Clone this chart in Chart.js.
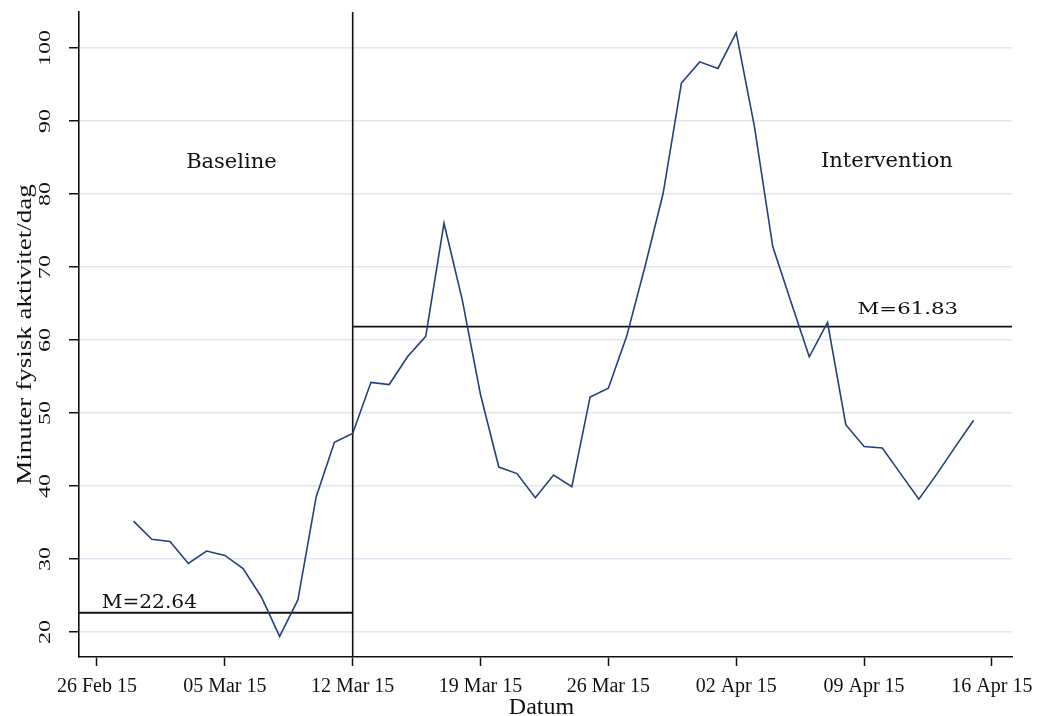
<!DOCTYPE html>
<html>
<head>
<meta charset="utf-8">
<script src="https://cdn.jsdelivr.net/npm/chart.js@4.4.1/dist/chart.umd.min.js"></script>
<style>
  html, body { margin: 0; padding: 0; background: #ffffff; }
  #wrap { width: 1040px; height: 716px; }
</style>
</head>
<body>
<div id="wrap"><canvas id="chart" width="1040" height="716"></canvas></div>
<script>
// Daily minutes of physical activity, one value per day from 28 Feb 2015
const firstDate = '2015-02-28';
const activity = [
  35.2, 32.7, 32.4, 29.4, 31.1, 30.5, 28.7, 24.8, 19.4, 24.4, 38.5, 46.0,
  47.2, 54.2, 53.9, 57.7, 60.5, 76.0, 65.5, 52.5, 42.6, 41.7, 38.4, 41.5,
  39.9, 52.2, 53.4, 60.5, 70.0, 80.1, 95.2, 98.1, 97.2, 102.1, 89.2, 72.8,
  65.2, 57.7, 62.4, 48.4, 45.4, 45.2, 41.7, 38.2, 41.7, 45.4, 49.0
];

// Phase change and phase means
const interventionStart = '2015-03-12';
const phaseNames = ['Baseline', 'Intervention'];
const phaseMeans = [22.64, 61.83];

// Axis ticks
const tickDates = ['2015-02-26', '2015-03-05', '2015-03-12', '2015-03-19',
                   '2015-03-26', '2015-04-02', '2015-04-09', '2015-04-16'];
const tickLabels = ['26 Feb 15', '05 Mar 15', '12 Mar 15', '19 Mar 15',
                    '26 Mar 15', '02 Apr 15', '09 Apr 15', '16 Apr 15'];
const yTicks = [20, 30, 40, 50, 60, 70, 80, 90, 100];

const DAY = 86400000;
const origin = Date.parse(tickDates[0]);
const dayOf = iso => (Date.parse(iso) - origin) / DAY;

const X_MIN = -0.985, X_MAX = 50.1;
const Y_MIN = 16.58, Y_MAX = 104.93;

const start = dayOf(firstDate);
const activityPoints = activity.map((v, i) => ({ x: start + i, y: v }));
const phaseDay = dayOf(interventionStart);

const SERIF = '"Liberation Serif", "Times New Roman", serif';
const LABEL_SERIF = '"DejaVu Serif", Georgia, serif';

function drawText(ctx, str, x, y, o) {
  ctx.save();
  ctx.translate(x, y);
  if (o.rotate) ctx.rotate(o.rotate);
  ctx.scale(o.sx || 1, o.sy || 1);
  ctx.font = o.font;
  ctx.fillStyle = o.color || '#111111';
  ctx.textAlign = o.align || 'center';
  ctx.textBaseline = o.baseline || 'alphabetic';
  ctx.fillText(str, 0, 0);
  ctx.restore();
}

// Rotated y tick labels, axis titles and in-plot annotations
const annotate = {
  id: 'annotate',
  afterDraw(chart) {
    const { ctx, chartArea, scales: { x, y } } = chart;

    yTicks.forEach(v => {
      drawText(ctx, String(v), 46, y.getPixelForValue(v), {
        font: '16px ' + SERIF, rotate: -Math.PI / 2, sx: 1.5, baseline: 'middle'
      });
    });

    drawText(ctx, 'Minuter fysisk aktivitet/dag', 25, (chartArea.top + chartArea.bottom) / 2, {
      font: '22px ' + SERIF, rotate: -Math.PI / 2, sx: 1.23, baseline: 'middle'
    });

    drawText(ctx, 'Datum', (chartArea.left + chartArea.right) / 2 - 4, 714, {
      font: '24px ' + SERIF
    });

    drawText(ctx, phaseNames[0], x.getPixelForValue(7.36), y.getPixelForValue(83.5), {
      font: '21px ' + LABEL_SERIF
    });
    drawText(ctx, phaseNames[1], x.getPixelForValue(43.25), y.getPixelForValue(83.7), {
      font: '21px ' + LABEL_SERIF
    });

    drawText(ctx, 'M=' + phaseMeans[0].toFixed(2), x.getPixelForValue(0.26),
      y.getPixelForValue(phaseMeans[0]) - 5, {
        font: '18px ' + LABEL_SERIF, align: 'left', sx: 1.12
      });
    drawText(ctx, 'M=' + phaseMeans[1].toFixed(2), 958,
      y.getPixelForValue(phaseMeans[1]) - 13, {
        font: '17px ' + LABEL_SERIF, align: 'right', sx: 1.25
      });
  }
};

const refLine = { borderColor: '#111111', borderWidth: 1.8, pointRadius: 0, fill: false, clip: false };

new Chart(document.getElementById('chart'), {
  type: 'line',
  data: {
    datasets: [
      {
        label: 'Minuter',
        data: activityPoints,
        borderColor: '#23427a',
        borderWidth: 1.6,
        pointRadius: 0,
        tension: 0,
        fill: false
      },
      Object.assign({ label: 'M baseline',
        data: [{ x: X_MIN, y: phaseMeans[0] }, { x: phaseDay, y: phaseMeans[0] }] }, refLine),
      Object.assign({ label: 'M intervention',
        data: [{ x: phaseDay, y: phaseMeans[1] }, { x: X_MAX, y: phaseMeans[1] }] }, refLine),
      Object.assign({ label: 'Fasbyte',
        data: [{ x: phaseDay, y: Y_MIN }, { x: phaseDay, y: Y_MAX }] }, refLine, { borderWidth: 1.6 })
    ]
  },
  options: {
    responsive: false,
    animation: false,
    layout: { padding: { left: 0, right: 28, top: 12, bottom: 0 } },
    plugins: { legend: { display: false }, tooltip: { enabled: false } },
    scales: {
      x: {
        type: 'linear',
        min: X_MIN,
        max: X_MAX,
        afterBuildTicks: s => { s.ticks = tickDates.map(d => ({ value: dayOf(d) })); },
        afterFit: s => { s.height = 59; s.paddingLeft = 0; s.paddingRight = 0; },
        ticks: {
          autoSkip: false,
          maxRotation: 0,
          minRotation: 0,
          padding: 9,
          color: '#111111',
          font: { family: SERIF, size: 20 },
          callback: (v, i) => tickLabels[i]
        },
        grid: { drawOnChartArea: false, drawTicks: true, tickLength: 9, tickColor: '#111111', tickWidth: 1.5 },
        border: { display: true, color: '#111111', width: 1.6 },
        title: { display: false }
      },
      y: {
        type: 'linear',
        min: Y_MIN,
        max: Y_MAX,
        afterBuildTicks: s => { s.ticks = yTicks.map(v => ({ value: v })); },
        afterFit: s => { s.width = 79; },
        ticks: { display: false },
        grid: {
          color: '#e3e5f3',
          lineWidth: 1.5,
          drawTicks: true,
          tickLength: 10,
          tickColor: '#111111',
          tickWidth: 1.5
        },
        border: { display: true, color: '#111111', width: 1.6 }
      }
    }
  },
  plugins: [annotate]
});
</script>
</body>
</html>
